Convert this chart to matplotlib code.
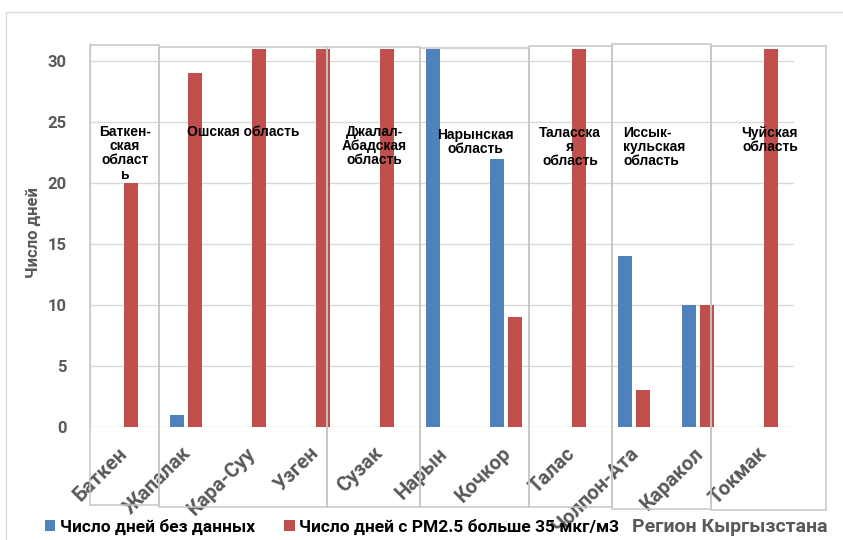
import matplotlib
matplotlib.use("Agg")
import matplotlib.pyplot as plt
from matplotlib.patches import Rectangle
from matplotlib.transforms import blended_transform_factory
import numpy as np

# ---------------- data ----------------
categories = ['Баткен', 'Жапалак', 'Кара-Суу', 'Узген', 'Сузак', 'Нарын',
              'Кочкор', 'Талас', 'Чолпон-Ата', 'Каракол', 'Токмак']
no_data_days = [0, 1, 0, 0, 0, 31, 22, 0, 14, 10, 0]
pm25_days = [20, 29, 31, 31, 31, 0, 9, 31, 3, 10, 31]
series_labels = ['Число дней без данных', 'Число дней с PM2.5 больше 35 мкг/м3']
y_ticks = [0, 5, 10, 15, 20, 25, 30]
y_title = 'Число дней'
x_title = 'Регион Кыргызстана'

region_names = ['Баткен-\nская\nобласт\nь', 'Ошская область', 'Джалал-\nАбадская\nобласть',
                'Нарынская\nобласть', 'Таласска\nя\nобласть', 'Иссык-\nкульская\nобласть',
                'Чуйская\nобласть']

# ---------------- layout ----------------
W, H = 843, 540
fig = plt.figure(figsize=(W / 100, H / 100), dpi=100)
px_per_unit = 12.2
ax_left, ax_right = 90, 794
y0 = 427
ax = fig.add_axes([ax_left / W, (H - y0) / H, (ax_right - ax_left) / W, 32 * px_per_unit / H])

blue = '#4F81BD'
red = '#C0504D'
gray_txt = '#595959'
calib = ['Roboto', 'DejaVu Sans']
arial = ['Liberation Sans', 'DejaVu Sans']

x = np.arange(len(categories))
bw = 0.22
off = 0.137
b1 = ax.bar(x - off, no_data_days, bw, color=blue, zorder=3, label=series_labels[0])
b2 = ax.bar(x + off, pm25_days, bw, color=red, zorder=3, label=series_labels[1])

ax.set_xlim(-0.5, len(categories) - 0.5)
ax.set_ylim(0, 32)
ax.set_yticks(y_ticks)
ax.yaxis.grid(True, color='#D9D9D9', linewidth=1, zorder=0)
ax.set_axisbelow(True)
for s in ['top', 'right', 'bottom']:
    ax.spines[s].set_visible(False)
ax.spines['left'].set_color('#B9CDE5')
ax.spines['left'].set_bounds(0, 31.5)
ax.tick_params(axis='both', length=0)
ax.tick_params(axis='y', pad=17)
for lab in ax.get_yticklabels():
    lab.set_fontfamily(calib)
    lab.set_fontweight('bold')
    lab.set_fontsize(12)
    lab.set_color(gray_txt)

ax.set_xticks(x)
ax.set_xticklabels([])
for i, c in enumerate(categories):
    ax.annotate(c, xy=(i - 0.07, 0), xytext=(0, -12), textcoords='offset points',
                rotation=45, rotation_mode='anchor', ha='right', va='top',
                fontsize=14.5, fontweight='bold', color=gray_txt, family=calib,
                annotation_clip=False)

fig.text(33 / W, 1 - 233 / H, y_title, rotation=90, ha='center', va='center',
         fontsize=12, fontweight='bold', color=gray_txt, family=calib)

# outer chart frame
fig.add_artist(Rectangle((6 / W, -0.1), 1.2, 1 - 12 / H + 0.1, transform=fig.transFigure,
                         fill=False, edgecolor='#D9D9D9', linewidth=1))

# region text boxes
bt = blended_transform_factory(ax.transData, fig.transFigure)
box_bounds = [(-0.5, 0.58), (0.58, 3.2), (3.2, 4.65), (4.65, 6.36), (6.36, 7.66), (7.66, 9.2), (9.2, 11.0)]
box_tops = [45, 47, 47, 48, 46, 44, 46]
box_bottoms = [505, 507, 507, 507, 507, 509, 510]
text_pos = [(125, 'center'), (243, 'center'), (374, 'center'), (475, 'center'),
            (570, 'center'), (623, 'left'), (770, 'center')]
text_tops = [125, 125, 125, 128, 126, 126, 126]
for (l, r), t, b in zip(box_bounds, box_tops, box_bottoms):
    fig.add_artist(Rectangle((l, 1 - b / H), r - l, (b - t) / H, transform=bt,
                             fill=False, edgecolor='#C6C6C6', linewidth=1.1, zorder=2))
for name, (tx, ha), ty in zip(region_names, text_pos, text_tops):
    fig.text(tx / W, 1 - ty / H, name, ha=ha, va='top', multialignment=ha,
             fontsize=10, fontweight='bold', family=arial, color='black',
             linespacing=1.02, zorder=5)

# legend
leg = fig.legend(handles=[b1, b2], labels=series_labels, ncol=2, frameon=False,
                 loc='center left', bbox_to_anchor=(45 / W, 1 - 527 / H),
                 handlelength=0.6, handleheight=0.6, handletextpad=0.25,
                 columnspacing=1.7, borderpad=0, borderaxespad=0,
                 prop={'family': calib, 'weight': 'bold', 'size': 12.5})

fig.text(632 / W, 1 - 527 / H, x_title, ha='left', va='center',
         fontsize=14, fontweight='bold', color=gray_txt, family=calib)

fig.savefig('out.png', dpi=100)
